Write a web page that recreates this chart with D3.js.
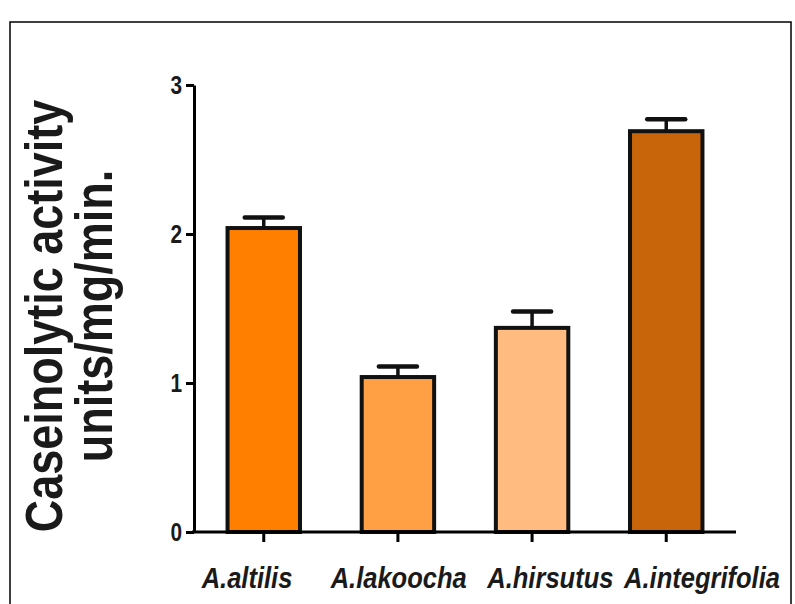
<!DOCTYPE html>
<html>
<head>
<meta charset="utf-8">
<script src="https://cdn.jsdelivr.net/npm/d3@7"></script>
<style>
  body { margin: 0; background: #fff; }
  svg { display: block; }
</style>
</head>
<body>
<div id="chart"></div>
<script>
// values
const species = ["A.altilis", "A.lakoocha", "A.hirsutus", "A.integrifolia"];
const activity = [2.04, 1.04, 1.37, 2.69];
const sem = [0.07, 0.07, 0.11, 0.08];
const barColors = ["#ff8000", "#ffa045", "#ffbb80", "#c8650a"];
const yTicks = [0, 1, 2, 3];

const width = 795, height = 604;
const svg = d3.select("#chart").append("svg")
    .attr("width", width)
    .attr("height", height);

// outer frame
svg.append("rect")
    .attr("x", 10).attr("y", 22)
    .attr("width", 781).attr("height", 620)
    .attr("fill", "none")
    .attr("stroke", "#000")
    .attr("stroke-width", 1.5);

const x = d3.scaleBand()
    .domain(species)
    .range([194, 736])
    .paddingInner(0.46)
    .paddingOuter(0.25);

const y = d3.scaleLinear()
    .domain([0, 3])
    .range([532, 85]);

// labels sit a little wider apart than the bars
const xLabel = d3.scalePoint()
    .domain(species)
    .range([247, 702]);

const font = "'Liberation Sans', Arial, sans-serif";

// bars
svg.selectAll("rect.bar")
    .data(species)
    .enter()
    .append("rect")
    .attr("class", "bar")
    .attr("x", d => x(d))
    .attr("y", (d, i) => y(activity[i]))
    .attr("width", x.bandwidth())
    .attr("height", (d, i) => y(0) - y(activity[i]))
    .attr("fill", (d, i) => barColors[i])
    .attr("stroke", "#111")
    .attr("stroke-width", 4);

// error bars (upper only)
const err = svg.append("g").attr("stroke", "#111");
species.forEach((s, i) => {
    const cx = x(s) + x.bandwidth() / 2;
    err.append("line")
        .attr("x1", cx).attr("x2", cx)
        .attr("y1", y(activity[i])).attr("y2", y(activity[i] + sem[i]))
        .attr("stroke-width", 3.5);
    err.append("line")
        .attr("x1", cx - 19).attr("x2", cx + 19)
        .attr("y1", y(activity[i] + sem[i])).attr("y2", y(activity[i] + sem[i]))
        .attr("stroke-width", 4.5)
        .attr("stroke-linecap", "round");
});

// y axis
const yAxis = svg.append("g")
    .attr("transform", "translate(194,0)")
    .call(d3.axisLeft(y).tickValues(yTicks).tickFormat(d3.format("d")).tickSize(8).tickSizeOuter(0));
yAxis.select(".domain").attr("stroke-width", 3);
yAxis.selectAll(".tick line").attr("stroke-width", 3);
yAxis.selectAll(".tick text")
    .attr("x", -12 / 0.8)
    .attr("transform", "scale(0.8,1)")
    .attr("font-family", font)
    .attr("font-weight", "bold")
    .attr("font-size", 26)
    .attr("fill", "#1a1a1a");

// x axis
const xAxis = svg.append("g")
    .attr("transform", "translate(0,532)")
    .call(d3.axisBottom(x).tickSize(10).tickSizeOuter(0).tickFormat(""));
xAxis.select(".domain").attr("stroke-width", 3).attr("d", "M192,0H736");
xAxis.selectAll(".tick line").attr("stroke-width", 3);

svg.append("g")
    .selectAll("text")
    .data(species)
    .enter()
    .append("text")
    .attr("transform", d => `translate(${xLabel(d)},588) scale(0.88,1)`)
    .attr("text-anchor", "middle")
    .attr("font-family", font)
    .attr("font-weight", "bold")
    .attr("font-style", "italic")
    .attr("font-size", 29)
    .attr("fill", "#1a1a1a")
    .text(d => d);

// y axis title, two lines
[["Caseinolytic activity", 62], ["units/mg/min.", 112]].forEach(([t, bx]) => {
    svg.append("text")
        .attr("transform", `translate(${bx},316) rotate(-90) scale(1,1.15)`)
        .attr("text-anchor", "middle")
        .attr("font-family", font)
        .attr("font-weight", "bold")
        .attr("font-size", 45)
        .attr("fill", "#1a1a1a")
        .text(t);
});
</script>
</body>
</html>
